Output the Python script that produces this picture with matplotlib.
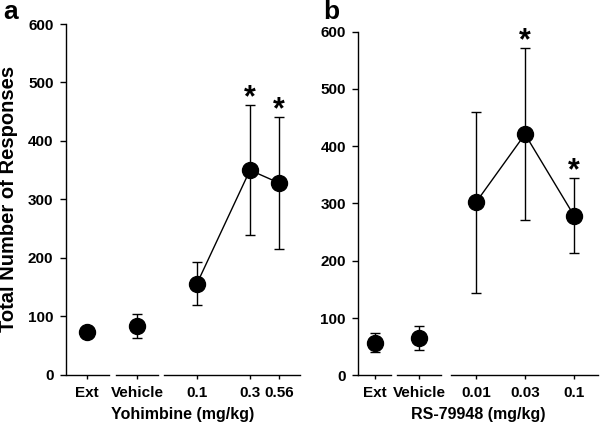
import numpy as np
import matplotlib
matplotlib.use("Agg")
import matplotlib.pyplot as plt

plt.rcParams['font.family'] = ['Liberation Sans', 'DejaVu Sans']
plt.rcParams['font.weight'] = 'bold'

# panel a: yohimbine
labels_a = ["Ext", "Vehicle", "0.1", "0.3", "0.56"]
mean_a = [73, 83, 156, 350, 328]
sem_a = [8, 21, 37, 111, 113]
sig_a = [False, False, False, True, True]

# panel b: RS-79948
labels_b = ["Ext", "Vehicle", "0.01", "0.03", "0.1"]
mean_b = [57, 65, 302, 421, 279]
sem_b = [16, 21, 158, 150, 66]
sig_b = [False, False, False, True, True]

fig = plt.figure(figsize=(6, 4.24), dpi=100)


def panel(rect, xpos, xlim, segs, labels, mean, err, sig, xlabel, letter, letter_xy, ylabel=None):
	ax = fig.add_axes(rect)
	xpos = np.array(xpos, dtype=float)
	mean = np.array(mean, dtype=float)
	err = np.array(err, dtype=float)
	ax.errorbar(xpos, mean, yerr=err, fmt='none', ecolor='black', elinewidth=1,
				capsize=3.5, capthick=1, zorder=2)
	# only the drug doses are joined
	ax.plot(xpos[2:], mean[2:], '-', color='black', lw=1, zorder=3)
	ax.plot(xpos, mean, 'o', color='black', ms=11.5, zorder=4)
	for x, m, e, s in zip(xpos, mean, err, sig):
		if s:
			ax.text(x, m + e + 12, "*", ha='center', va='center', fontsize=22, fontweight='bold')
	ax.set_xlim(*xlim)
	ax.set_ylim(0, 600)
	ax.set_yticks(range(0, 601, 100))
	ax.set_xticks(xpos)
	ax.set_xticklabels(labels)
	for sp in ['top', 'right', 'bottom']:
		ax.spines[sp].set_visible(False)
	ax.spines['left'].set_linewidth(1)
	for a, b in segs:
		ax.plot([a, b], [0, 0], color='black', lw=1, clip_on=False, zorder=5)
	ax.tick_params(axis='y', direction='out', length=4, width=1, labelsize=11, pad=5)
	ax.tick_params(axis='x', direction='out', length=3, width=1, labelsize=11, pad=5)
	for t in ax.get_xticklabels() + ax.get_yticklabels():
		t.set_fontweight('bold')
	ax.set_xlabel(xlabel, fontsize=11.5, fontweight='bold', labelpad=5)
	if ylabel:
		ax.set_ylabel(ylabel, fontsize=14.5, fontweight='bold')
		ax.yaxis.set_label_coords(-0.205, 0.5)
	fig.text(letter_xy[0], letter_xy[1], letter, fontsize=19, fontweight='bold', ha='left', va='top')
	return ax


panel([66 / 600, 1 - 374.7 / 424, 234 / 600, 350.7 / 424],
	  [87, 137, 197, 250, 279], (66, 300),
	  [(67, 109), (116, 158), (164, 300)],
	  labels_a, mean_a, sem_a, sig_a, "Yohimbine (mg/kg)", "a", (0.005, 1.0),
	  ylabel="Total Number of Responses")

panel([358.3 / 600, 1 - 375.3 / 424, 239.7 / 600, 343.6 / 424],
	  [375, 419, 476, 525, 574], (358.3, 598),
	  [(358.3, 391), (397, 441), (451, 598)],
	  labels_b, mean_b, sem_b, sig_b, "RS-79948 (mg/kg)", "b", (0.538, 1.0))

fig.savefig("out.png", dpi=100)
